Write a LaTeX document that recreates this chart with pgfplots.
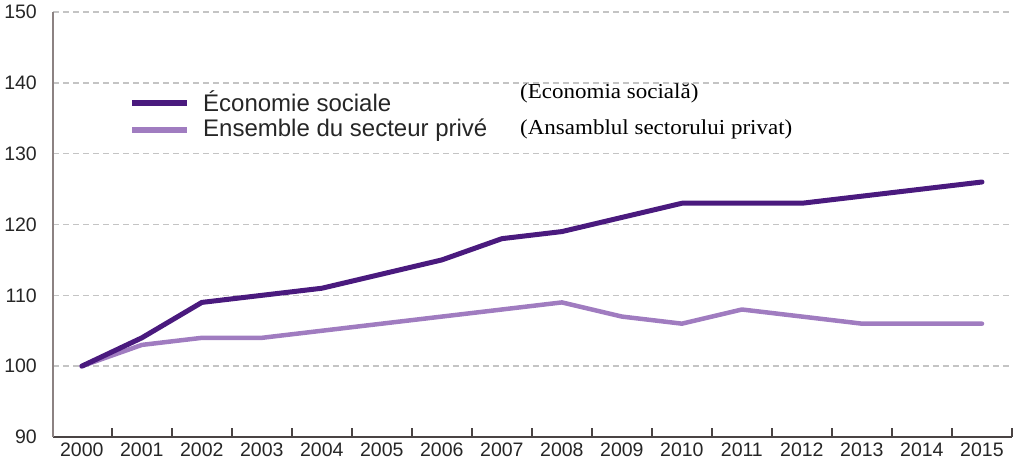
\documentclass[border=0pt]{standalone}
\usepackage{pgfplots}
\pgfplotsset{compat=1.18}
\usepackage{fontspec}
\setmainfont{Liberation Sans}
\newfontfamily\serifro[FakeStretch=1.08]{Liberation Serif}
\definecolor{darkp}{HTML}{4A1A7E}
\definecolor{lightp}{HTML}{A07CC0}
\definecolor{gridc}{HTML}{C4C4C4}
\definecolor{yax}{HTML}{8C8282}
\definecolor{xax}{HTML}{4A4444}
\definecolor{lab}{HTML}{262626}
\begin{document}
\begin{tikzpicture}
\begin{axis}[
  at={(0pt,0pt)}, anchor=south west,
  scale only axis, width=959pt, height=425pt,
  xmin=1999.52, xmax=2015.5, ymin=90, ymax=150,
  axis x line=bottom, axis y line=left,
  axis line style={-},
  x axis line style={xax, line width=2pt},
  y axis line style={yax, line width=2pt},
  xtick={2000,...,2015}, major tick length=0pt,
  minor xtick={2000.5,2001.5,...,2015.5},
  minor tick length=9pt, tick align=inside,
  minor tick style={xax, line width=1.6pt},
  ytick={90,100,...,150},
  ymajorgrids, grid style={gridc, line width=1.6pt, dash pattern=on 6pt off 4pt},
  /pgf/number format/assume math mode=true,
  /pgf/number format/1000 sep={},
  tick label style={font=\fontsize{19.5}{19.5}\selectfont, text=lab, inner sep=0pt},
  yticklabel style={xshift=-16pt},
  xticklabel style={yshift=-6pt},
  clip=false,
]
\addplot[lightp, line width=4.5pt, line join=round, line cap=round] coordinates {
(2000,100) (2001,103) (2002,104) (2003,104) (2004,105) (2005,106) (2006,107) (2007,108)
(2008,109) (2009,107) (2010,106) (2011,108) (2012,107) (2013,106) (2014,106) (2015,106)};
\addplot[darkp, line width=5pt, line join=round, line cap=round] coordinates {
(2000,100) (2001,104) (2002,109) (2003,110) (2004,111) (2005,113) (2006,115) (2007,118)
(2008,119) (2009,121) (2010,123) (2011,123) (2012,123) (2013,124) (2014,125) (2015,126)};
\end{axis}
\draw[darkp, line width=5.5pt] (79pt,334pt) -- (134pt,334pt);
\draw[lightp, line width=5.5pt] (79pt,307pt) -- (134pt,307pt);
\node[anchor=west, inner sep=0pt, text=lab, font=\fontsize{24}{24}\selectfont] at (150pt,336pt) {Économie sociale};
\node[anchor=west, inner sep=0pt, text=lab, font=\fontsize{24}{24}\selectfont] at (150pt,307pt) {Ensemble du secteur privé};
\node[anchor=west, inner sep=0pt, text=black, font=\serifro\fontsize{21.3}{21.3}\selectfont] at (467pt,344pt) {(Economia socială)};
\node[anchor=west, inner sep=0pt, text=black, font=\serifro\fontsize{21.3}{21.3}\selectfont] at (467pt,308pt) {(Ansamblul sectorului privat)};
\pgfresetboundingbox
\path (-53pt,-25pt) rectangle (961pt,437pt);
\end{tikzpicture}
\end{document}
